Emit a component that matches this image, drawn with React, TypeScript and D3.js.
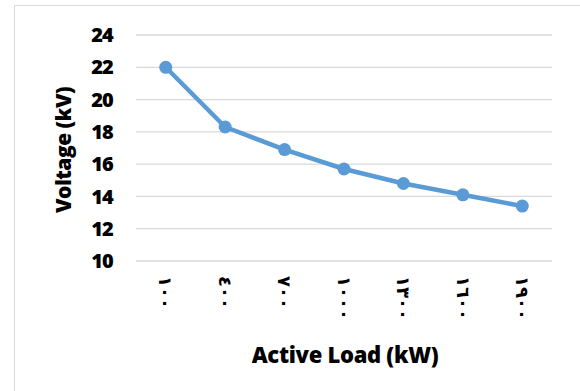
import React from "react";
import * as d3 from "d3";

const categories = ["١٠٠", "٤٠٠", "٧٠٠", "١٠٠٠", "١٣٠٠", "١٦٠٠", "١٩٠٠"];
const voltage = [22.0, 18.3, 16.9, 15.7, 14.8, 14.1, 13.4];
const yTicks = [10, 12, 14, 16, 18, 20, 22, 24];

const W = 580;
const H = 391;
const plotLeft = 136;
const plotRight = 552;
const plotTop = 35;
const plotBottom = 261;

export default function App() {
  const x = d3.scaleBand<string>().domain(categories).range([plotLeft, plotRight]);
  const y = d3.scaleLinear().domain([10, 24]).range([plotBottom, plotTop]);
  const cx = (c: string) => (x(c) ?? 0) + x.bandwidth() / 2;
  const line = d3
    .line<number>()
    .x((_, i) => cx(categories[i]))
    .y((d) => y(d));
  const font = "'Open Sans', 'DejaVu Sans', sans-serif";

  return (
    <svg
      width={W}
      height={H}
      style={{ position: "fixed", left: 0, top: 0, background: "#fff" }}
    >
      <rect x={14.5} y={5.5} width={W} height={H} fill="#fff" stroke="#d9d9d9" strokeWidth={1} />
      {yTicks.map((t) => (
        <g key={t}>
          <line x1={plotLeft} x2={plotRight} y1={y(t)} y2={y(t)} stroke="#d9d9d9" strokeWidth={1.3} />
          <text
            x={113}
            y={y(t)}
            dy="0.36em"
            textAnchor="end"
            fontFamily={font}
            fontWeight={800}
            fontSize={20}
            letterSpacing={-0.8}
            fill="#000"
          >
            {t}
          </text>
        </g>
      ))}
      <path d={line(voltage) ?? ""} fill="none" stroke="#5B9BD5" strokeWidth={4.5} strokeLinejoin="round" />
      {voltage.map((v, i) => (
        <circle key={i} cx={cx(categories[i])} cy={y(v)} r={6.5} fill="#5B9BD5" />
      ))}
      {categories.map((c) => (
        <text
          key={c}
          transform={`translate(${cx(c)},${276}) rotate(90)`}
          textAnchor="start"
          dy="0.35em"
          fontFamily="'DejaVu Sans', sans-serif"
          fontWeight={700}
          fontSize={18}
          fill="#000"
        >
          {c}
        </text>
      ))}
      <text
        transform={`translate(64,${150}) rotate(-90)`}
        textAnchor="middle"
        dy="0.35em"
        fontFamily={font}
        fontWeight={800}
        fontSize={21}
        letterSpacing={-0.5}
        fill="#000"
      >
        Voltage (kV)
      </text>
      <text
        x={345}
        y={363}
        textAnchor="middle"
        fontFamily={font}
        fontWeight={800}
        fontSize={22}
        letterSpacing={-0.3}
        fill="#000"
      >
        Active Load (kW)
      </text>
    </svg>
  );
}
